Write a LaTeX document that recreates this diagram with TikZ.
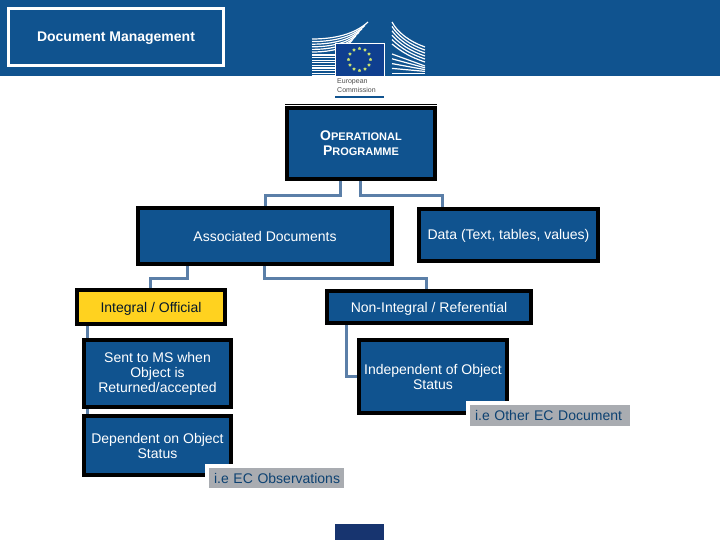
\documentclass[tikz,border=0pt]{standalone}
\usepackage{fontspec}
\setmainfont{Liberation Sans}
\usepackage{xcolor}
\usetikzlibrary{shapes.geometric, positioning}
\definecolor{ecblue}{HTML}{10538F}
\definecolor{ecflag}{HTML}{0F3F8F}
\definecolor{ecbar}{HTML}{17346F}
\definecolor{linkblue}{HTML}{5B7FA8}
\definecolor{ecyellow}{HTML}{FFD21F}
\definecolor{notegrey}{HTML}{A9ACB1}
\definecolor{starcol}{HTML}{C8E070}
\tikzset{
  oneline/.style={text height=10pt, text depth=0pt},
  mainbox/.style={rectangle, draw=black, line width=4pt, inner sep=0pt, text centered,
    font=\fontsize{14}{15}\selectfont},
  bluebox/.style={mainbox, fill=ecblue, text=white},
  yellowbox/.style={mainbox, fill=ecyellow, text=black!70!ecblue, oneline},
  notebox/.style={rectangle, draw=white, line width=4pt, fill=notegrey, inner ysep=0pt, inner xsep=7pt,
    text=ecblue!80!black, font=\fontsize{14}{15}\selectfont, oneline},
  titlebox/.style={rectangle, draw=white, line width=3pt, fill=ecblue, text=white, inner sep=0pt,
    font=\fontsize{14}{15}\selectfont\bfseries, oneline},
  link/.style={draw=linkblue, line width=3pt},
  wing/.style={draw=white, line width=1.2pt}
}
\begin{document}
\begin{tikzpicture}[x=1pt, y=-1pt, every node/.style={align=center}]
  \useasboundingbox (0,0) rectangle (720,540);
  % band and logo
  \fill[ecblue] (0,0) rectangle (720,76);
  \foreach \i in {0,...,5}
    \draw[wing] (312,{39+2.6*\i}) .. controls ({335+\i},{39+2.6*\i}) and ({355-\i},{34+2*\i}) .. ({368-3*\i},{22+3.4*\i});
  \foreach \i in {0,...,8}
    \draw[wing] (312,{55+2.6*\i}) -- (335,{55+2.6*\i});
  \foreach \i in {0,...,5}
    \draw[wing] (392,{22+4.4*\i}) .. controls ({397+\i},{32+4*\i}) and (410,{42+3*\i}) .. (425,{47+3*\i});
  \foreach \i in {0,...,4}
    \draw[wing] (392,{54+4.8*\i}) -- (425,{66+1.8*\i});
  \node[rectangle, draw=white, line width=0.6pt, fill=ecflag, minimum width=49pt, minimum height=33pt, inner sep=0pt] (flag) at (359.5,59.5) {};
  \foreach \a in {0,30,...,330}
    \node[star, star points=5, fill=starcol, minimum size=3.5pt, inner sep=0pt] (star\a) at ([shift={(\a:11)}]flag.center) {};
  \node[text=black!70, font=\fontsize{7}{8.5}\selectfont, align=left, anchor=north west, inner sep=0pt] (eclabel) at (337,78.5) {European\\Commission};
  \fill[ecblue] (335,96) rectangle (384,98.5);
  % title
  \node[titlebox, minimum width=215pt, minimum height=57pt] (title) at (116,37) {Document Management};
  % chart
  \node[bluebox, minimum width=148pt, minimum height=71pt, font=\fontsize{14}{15}\selectfont\bfseries] (prog) at (361,143.5)
        {O\fontsize{11}{15}\selectfont PERATIONAL\\\fontsize{14}{15}\selectfont P\fontsize{11}{15}\selectfont ROGRAMME};
  \node[bluebox, oneline, below=25pt of prog, xshift=-96pt, minimum width=254pt, minimum height=56pt] (assoc) {Associated Documents};
  \node[bluebox, oneline, below=26pt of prog, xshift=147.5pt, minimum width=179pt, minimum height=52pt] (data) {Data (Text, tables, values)};
  \node[yellowbox, below=22pt of assoc, xshift=-114pt, minimum width=148pt, minimum height=34pt] (integral) {Integral / Official};
  \node[bluebox, oneline, below=23pt of assoc, xshift=164pt, minimum width=204pt, minimum height=32pt] (nonint) {Non-Integral / Referential};
  \node[bluebox, below=12pt of integral, xshift=6.5pt, minimum width=147pt, minimum height=67pt] (sent) {Sent to MS when\\Object is\\Returned/accepted};
  \node[bluebox, below=5pt of sent, minimum width=147pt, minimum height=59pt] (dep) {Dependent on Object\\Status};
  \node[bluebox, below=13pt of nonint, xshift=4pt, minimum width=148pt, minimum height=73pt] (indep) {Independent of Object\\Status};
  \node[notebox, below right=-13pt and -28pt of dep, text width=125pt, align=left, minimum height=24pt] (obsnote) {\mbox{i.e EC Observations}};
  \node[notebox, below right=-14pt and -43pt of indep, text width=150pt, align=left, minimum height=25pt] (othernote) {\mbox{i.e Other EC Document}};
  \draw[link] ([xshift=-20.5pt]prog.south) -- ++(0,15) -| (assoc.north);
  \draw[link] ([xshift=-0.5pt]prog.south) -- ++(0,15) -| ([xshift=-66.5pt]data.north);
  \draw[link] ([xshift=-78pt]assoc.south) -- ++(0,12) -| ([xshift=-1pt]integral.north);
  \draw[link] ([xshift=-1pt]assoc.south) -- ++(0,12) -| ([xshift=-3pt]nonint.north);
  \draw[link] ([xshift=-64pt]integral.south) -- ([xshift=-70.5pt]sent.north);
  \draw[link] ([xshift=-70.5pt]sent.south) -- ([xshift=-70.5pt]dep.north);
  \draw[link] ([xshift=-83pt]nonint.south) |- (indep.west);
  \draw[black, line width=1pt] ([yshift=1.5pt]prog.north west) -- ([yshift=1.5pt]prog.north east);
  % bottom bar
  \fill[ecbar] (335,524) rectangle (384,540);
\end{tikzpicture}
\end{document}
